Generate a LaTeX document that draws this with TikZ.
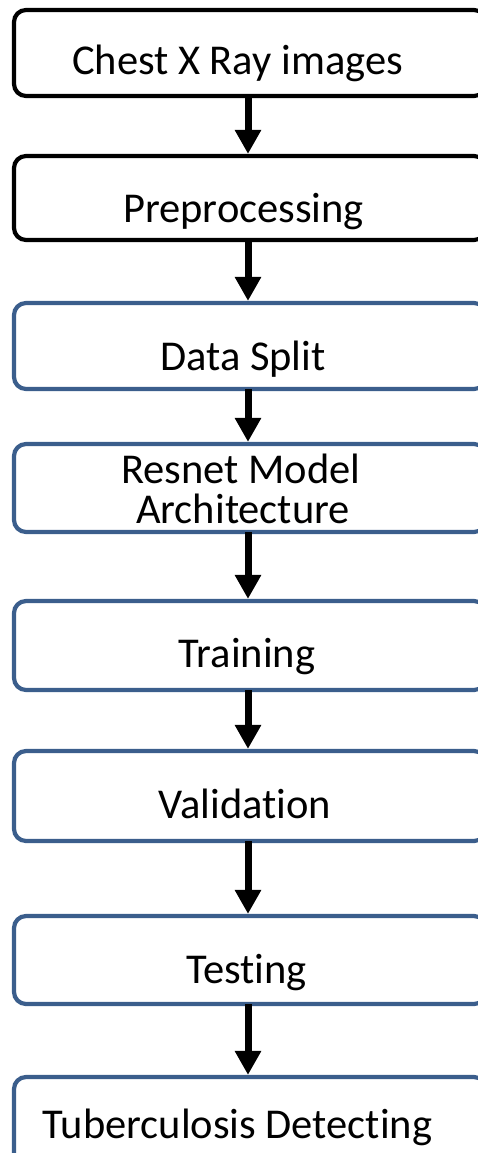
\documentclass[tikz,border=0pt]{standalone}
\usepackage{fontspec}
\setmainfont{Carlito}[Ligatures={NoCommon,NoRequired,NoContextual},RawFeature={-liga;-calt;-clig;-dlig}]
\usetikzlibrary{arrows.meta}
\definecolor{boxblue}{HTML}{3B5E8C}
\tikzset{
  stepbox/.style={draw, line width=4.2pt, rounded corners=12pt, minimum width=472pt, inner sep=0pt, fill=white},
  blackbox/.style={stepbox, draw=black},
  bluebox/.style={stepbox, draw=boxblue},
  label/.style={anchor=base, inner sep=0pt, font=\fontsize{42.5}{46}\selectfont},
  flow/.style={line width=7pt, -{Triangle[width=25pt,length=24pt]}, black, shorten <=-2pt}
}
\begin{document}
\begin{tikzpicture}[x=1pt,y=-1pt]
\useasboundingbox (0,0) rectangle (477,1153);
\node[blackbox, minimum height=86pt] (b1) at (250,53) {};
\node[blackbox, minimum height=84pt] (b2) at (250,198) {};
\node[bluebox, minimum height=86pt] (b3) at (250,346) {};
\node[bluebox, minimum height=88pt] (b4) at (250,488) {};
\node[bluebox, minimum height=89pt] (b5) at (250,645.5) {};
\node[bluebox, minimum height=90pt] (b6) at (250,796) {};
\node[bluebox, minimum height=88pt] (b7) at (250,960) {};
\node[bluebox, minimum height=88pt] (b8) at (250,1121) {};

\node[label] (t1) at (237.5,75) {Chest X Ray images};
\node[label] (t2) at (243.5,222) {Preprocessing};
\node[label] (t3) at (243,370) {Data Split};
\node[label] (t4a) at (241,483) {Resnet Model};
\node[label] (t4b) at (243,523) {Architecture};
\node[label] (t5) at (247,667) {Training};
\node[label] (t6) at (245,818) {Validation};
\node[label] (t7) at (246.5,983) {Testing};
\node[label] (t8) at (237.5,1138) {Tuberculosis Detecting};

\foreach \a/\b in {b1/b2,b2/b3,b3/b4,b4/b5,b5/b6,b6/b7,b7/b8}
  \draw[flow] (\a.south -| 248,0) -- (\b.north -| 248,0);
\end{tikzpicture}
\end{document}
